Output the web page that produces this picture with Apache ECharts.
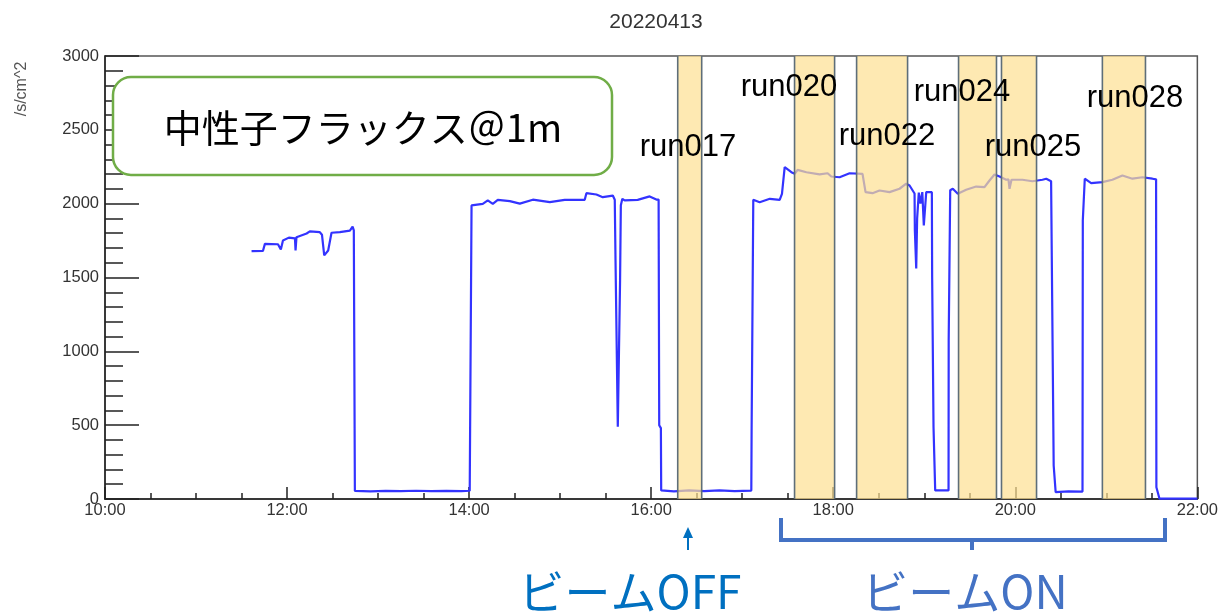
<!DOCTYPE html>
<html>
<head>
<meta charset="utf-8">
<script src="https://cdn.jsdelivr.net/npm/echarts/dist/echarts.min.js"></script>
<style>
html,body{margin:0;padding:0;background:#fff;}
#chart{width:1221px;height:612px;}
</style>
</head>
<body>
<div id="chart"></div>
<script>
// ---- data (time in minutes since midnight, flux in /s/cm^2) ----
const timeMin = [
  696.6, 704.1, 705.4, 714, 715.9, 717.3, 721.2, 725.2, 725.6, 726.2, 732.9, 735, 741.6, 743, 744.5, 747.1, 749.3, 754.8, 761.4, 763.2, 764.0,
  764.7, 775, 785, 795, 805, 815, 825, 835, 840.4,
  841.6, 849, 852.3, 855.6, 858.9, 866.8, 873.4, 882, 893.2, 903, 916.2, 917.3, 923.9, 928.1, 934.7, 936,
  936.5, 937.7, 938, 939.3, 939.5, 940, 941, 942.5, 951.1, 959, 963.4, 964.9,
  965.3, 966.4, 966.6, 975, 985, 995, 1005, 1015, 1026,
  1026.2, 1027, 1027.3, 1031.5, 1038.2, 1044.7, 1046.2, 1048, 1049.1, 1052.4, 1054.6, 1056.5, 1062.3, 1071, 1076.3, 1078.7, 1084.2, 1090.8, 1099.3,
  1101.3, 1105.9, 1110.5, 1117.1, 1123.7, 1128.1, 1130.3, 1133.6, 1133.8, 1134.7, 1135.3, 1136.4, 1137.5, 1138.7, 1139.7, 1141.3, 1145,
  1145.2, 1146.1, 1147.2, 1156, 1156.1, 1157.1, 1158.8, 1162.1, 1167.6, 1174.2, 1179.7, 1183, 1186.3, 1189.6, 1194, 1195.5, 1196.2, 1197.5,
  1204.7, 1211.3, 1217.9, 1220.4, 1223.6, 1224.3, 1225.3, 1226.6, 1235, 1244.3,
  1244.5, 1245.6, 1245.8, 1250, 1257.4, 1264, 1270.6, 1277.2, 1283.8, 1290.4, 1292.8, 1293, 1295, 1320
];
const flux = [
  1678, 1680, 1728, 1725, 1690, 1750, 1770, 1765, 1683, 1773, 1798, 1812, 1807, 1790, 1650, 1683, 1803, 1807, 1818, 1845, 1820,
  55, 52, 55, 53, 56, 53, 55, 53, 56,
  1988, 1999, 2022, 1999, 2026, 2017, 2000, 2027, 2010, 2026, 2026, 2071, 2062, 2044, 2055, 2026,
  1615, 1610, 490, 490, 1480, 1990, 2033, 2022, 2026, 2049, 2028, 2028,
  500, 480, 58, 52, 58, 54, 58, 53, 57,
  464, 470, 2026, 2010, 2033, 2026, 2067, 2247, 2252, 2213, 2202, 2229, 2213, 2198, 2206, 2184, 2179, 2206, 2202,
  2078, 2071, 2089, 2078, 2101, 2135, 2123, 2069, 1818, 1561, 1900, 2075, 2000, 2078, 1852, 2078, 2078,
  1502, 487, 58, 58, 1074, 2091, 2101, 2067, 2094, 2116, 2112, 2157, 2198, 2184, 2162, 2165, 2101, 2162,
  2162, 2152, 2162, 2169, 2152, 2150, 227, 47, 52, 50,
  1886, 1890, 2169, 2139, 2146, 2162, 2191, 2169, 2179, 2169, 2165, 80, 3, 3
];
const runNames = ['run017', 'run020', 'run022', 'run024', 'run025', 'run028'];
const runStart = [977.5, 1054.5, 1095.4, 1162.6, 1190.9, 1257.4];
const runEnd   = [993.3, 1080.9, 1129.0, 1187.6, 1214.0, 1285.8];
const xTicks = [600, 720, 840, 960, 1080, 1200, 1320];
const chartTitle = '20220413';
const yUnit = '/s/cm^2';
const boxText = '中性子フラックス＠1m';
const beamOff = 'ビームOFF';
const beamOn = 'ビームON';

function hhmm(v) {
  const h = Math.floor(v / 60), m = Math.round(v - h * 60);
  return String(h).padStart(2, '0') + ':' + String(m).padStart(2, '0');
}

const chart = echarts.init(document.getElementById('chart'));
const lineData = timeMin.map((t, i) => [t, flux[i]]);
const bandData = runStart.map((s, i) => [s, runEnd[i], runNames[i]]);

// run label pixel centers (annotation layout)
const runLabelLayout = [[688, 147], [789, 87], [887, 136], [962, 92], [1033, 147], [1135, 98]];

const font = 'Liberation Sans, Arial, sans-serif';
const cjk = '"Noto Sans CJK JP", sans-serif';

const option = {
  animation: false,
  backgroundColor: '#fff',
  title: {
    text: chartTitle, left: 651, top: 7, textAlign: 'center',
    textStyle: { fontSize: 21, fontWeight: 'normal', color: '#333', fontFamily: font }
  },
  grid: { left: 105, right: 23, top: 56, bottom: 113, show: true, borderColor: '#555', borderWidth: 1.5, backgroundColor: 'transparent' },
  xAxis: {
    type: 'value', min: 600, max: 1320, interval: 120,
    axisLine: { show: true, lineStyle: { color: '#222', width: 1.5 } },
    axisTick: { show: true, inside: true, length: 12, lineStyle: { color: '#222', width: 1.5 } },
    minorTick: { show: true, splitNumber: 4, length: 6, lineStyle: { color: '#222', width: 1.5 } },
    splitLine: { show: false },
    axisLabel: { formatter: hhmm, fontSize: 16.5, color: '#333', fontFamily: font, margin: 3 }
  },
  yAxis: {
    type: 'value', min: 0, max: 3000, interval: 500,
    axisLine: { show: true, lineStyle: { color: '#222', width: 1.5 } },
    axisTick: { show: true, inside: true, length: 34, lineStyle: { color: '#222', width: 1.5 } },
    minorTick: { show: true, splitNumber: 5, length: 18, lineStyle: { color: '#222', width: 1.5 } },
    splitLine: { show: false },
    axisLabel: { formatter: v => String(v), fontSize: 16.5, color: '#333', fontFamily: font, margin: 6 }
  },
  series: [
    {
      type: 'line', data: lineData, showSymbol: false, z: 2,
      lineStyle: { color: '#3333ff', width: 2.2 },
      emphasis: { disabled: true }
    },
    {
      type: 'custom', z: 5, silent: true,
      data: bandData,
      encode: { x: [0, 1] },
      renderItem: function (params, api) {
        const p0 = api.coord([api.value(0), 3000]);
        const p1 = api.coord([api.value(1), 0]);
        return {
          type: 'group',
          children: [
            { type: 'rect', shape: { x: p0[0], y: p0[1], width: p1[0] - p0[0], height: p1[1] - p0[1] },
              style: { fill: 'rgba(254,224,145,0.7)' } },
            { type: 'line', shape: { x1: p0[0], y1: p0[1], x2: p0[0], y2: p1[1] },
              style: { stroke: '#5e6e79', lineWidth: 1.6 } },
            { type: 'line', shape: { x1: p1[0], y1: p0[1], x2: p1[0], y2: p1[1] },
              style: { stroke: '#5e6e79', lineWidth: 1.6 } }
          ]
        };
      }
    }
  ],
  graphic: [
    { type: 'text', x: 22, y: 89, rotation: Math.PI / 2,
      style: { text: yUnit, fontSize: 16, fill: '#555', fontFamily: font, align: 'center', verticalAlign: 'middle' } },
    { type: 'rect', shape: { x: 113, y: 77, width: 499, height: 98, r: 18 }, z: 10,
      style: { fill: '#fff', stroke: '#70ad47', lineWidth: 2.5 } },
    { type: 'text', x: 363, y: 128, z: 11,
      style: { text: boxText, fontSize: 38, fill: '#000', fontFamily: cjk, align: 'center', verticalAlign: 'middle' } },
    ...runNames.map((n, i) => ({
      type: 'text', x: runLabelLayout[i][0], y: runLabelLayout[i][1], z: 11,
      style: { text: n, fontSize: 31, fill: '#000', fontFamily: font, align: 'center', verticalAlign: 'middle' }
    })),
    // beam OFF arrow
    { type: 'line', z: 11, shape: { x1: 688, y1: 550, x2: 688, y2: 536 }, style: { stroke: '#0070c0', lineWidth: 2 } },
    { type: 'polygon', z: 11, shape: { points: [[683, 538], [693, 538], [688, 527]] }, style: { fill: '#0070c0' } },
    // beam ON bracket
    { type: 'polyline', z: 11, shape: { points: [[781, 518], [781, 540], [1165, 540], [1165, 518]] },
      style: { stroke: '#4472c4', lineWidth: 4, fill: null } },
    { type: 'line', z: 11, shape: { x1: 972, y1: 540, x2: 972, y2: 550 }, style: { stroke: '#4472c4', lineWidth: 4 } },
    { type: 'text', x: 630, y: 592, z: 11,
      style: { text: beamOff, fontSize: 46, fill: '#0070c0', fontFamily: cjk, align: 'center', verticalAlign: 'middle' } },
    { type: 'text', x: 965, y: 592, z: 11,
      style: { text: beamOn, fontSize: 46, fill: '#4472c4', fontFamily: cjk, align: 'center', verticalAlign: 'middle' } }
  ]
};
chart.setOption(option);
</script>
</body>
</html>
